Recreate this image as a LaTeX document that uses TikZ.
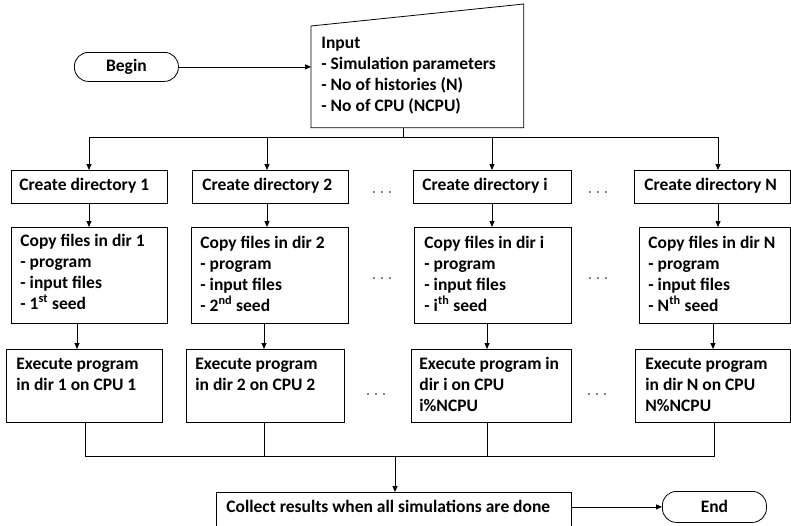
\documentclass[tikz,border=0pt]{standalone}
\usepackage{fontspec}
\setmainfont{Carlito}
\usetikzlibrary{arrows.meta,calc}
\newcommand{\mlines}[1]{\begin{tabular}[t]{@{}l@{}}#1\end{tabular}}
\begin{document}
\begin{tikzpicture}[x=1pt,y=-1pt,
  line width=0.8pt,
  box/.style={draw, rectangle, anchor=north west, inner sep=0pt},
  term/.style={draw, rectangle, rounded corners=14pt, anchor=north west, inner sep=0pt},
  txt/.style={anchor=base west, inner sep=0pt, font=\fontsize{17.5}{21}\selectfont\bfseries},
  ctxt/.style={inner sep=0pt, font=\fontsize{17.5}{21}\selectfont\bfseries},
  arr/.style={-{Triangle[length=6pt,width=5pt]}},
  dot/.style={fill, circle, inner sep=0pt, minimum size=1.6pt}
]
\useasboundingbox (0,0) rectangle (791,525);
\clip (0,0) rectangle (791,525);

% Begin / Input
\node[term, minimum width=104, minimum height=29] (begin) at (74,52) {};
\node[ctxt] at (begin.center) {Begin};
\node[rectangle, anchor=north west, inner sep=0pt, minimum width=212, minimum height=123] (inp) at (311,4) {};
\draw (inp.south west) -- (inp.south east) -- (inp.north east) -- ($(inp.north west)+(0,22)$) -- cycle;
\node[txt] at ($(inp.north west)+(10,44)$) {\mlines{Input\\- Simulation parameters\\- No of histories (N)\\- No of CPU (NCPU)}};
\draw[arr] (begin.east) -- (begin.east -| inp.west);

% Row 1
\node[box, minimum width=156, minimum height=33] (c1) at (11,170) {};
\node[box, minimum width=156, minimum height=33] (c2) at (192,170) {};
\node[box, minimum width=158, minimum height=33] (ci) at (413,170) {};
\node[box, minimum width=156, minimum height=33] (cN) at (634,170) {};
\node[txt] at ($(c1.north west)+(8,20)$) {Create directory 1};
\node[txt] at ($(c2.north west)+(10,20)$) {Create directory 2};
\node[txt] at ($(ci.north west)+(9,20)$) {Create directory i};
\node[txt] at ($(cN.north west)+(10,20)$) {Create directory N};

% Row 2
\node[box, minimum width=156, minimum height=96] (p1) at (11,227) {};
\node[box, minimum width=157, minimum height=96] (p2) at (191,227) {};
\node[box, minimum width=157, minimum height=96] (pi) at (414,227) {};
\node[box, minimum width=151, minimum height=96] (pN) at (639,227) {};
\node[txt] at ($(p1.north west)+(9,19)$) {\mlines{Copy files in dir 1\\- program\\- input files\\- 1\textsuperscript{st} seed}};
\node[txt] at ($(p2.north west)+(9,21)$) {\mlines{Copy files in dir 2\\- program\\- input files\\- 2\textsuperscript{nd} seed}};
\node[txt] at ($(pi.north west)+(10,21)$) {\mlines{Copy files in dir i\\- program\\- input files\\- i\textsuperscript{th} seed}};
\node[txt] at ($(pN.north west)+(9,21)$) {\mlines{Copy files in dir N\\- program\\- input files\\- N\textsuperscript{th} seed}};

% Row 3
\node[box, minimum width=156, minimum height=73] (e1) at (6,349) {};
\node[box, minimum width=158, minimum height=73] (e2) at (186,349) {};
\node[box, minimum width=160, minimum height=73] (ei) at (411,349) {};
\node[box, minimum width=155, minimum height=73] (eN) at (635,349) {};
\node[txt] at ($(e1.north west)+(10,20)$) {\mlines{Execute program\\in dir 1 on CPU 1}};
\node[txt] at ($(e2.north west)+(9,20)$) {\mlines{Execute program\\in dir 2 on CPU 2}};
\node[txt] at ($(ei.north west)+(8,20)$) {\mlines{Execute program in\\dir i on CPU\\i\%NCPU}};
\node[txt] at ($(eN.north west)+(10,20)$) {\mlines{Execute program\\in dir N on CPU\\N\%NCPU}};

% Collect / End
\node[box, minimum width=355, minimum height=45] (col) at (216,492) {};
\node[txt] at ($(col.north west)+(10,20)$) {Collect results when all simulations are done};
\node[term, minimum width=104, minimum height=31] (end) at (662,491) {};
\node[ctxt] at (end.center) {End};
\draw[arr] (col.east |- end.west) -- (end.west);

% Top bus
\coordinate (busT) at (403,137);
\draw (inp.south -| busT) -- (busT);
\coordinate (bT1) at (89,137);
\coordinate (bT2) at (267,137);
\coordinate (bTi) at (492,137);
\coordinate (bTN) at (718,137);
\draw (bT1) -- (bTN);
\draw[arr] (bT1) -- (bT1 |- c1.north);
\draw[arr] (bT2) -- (bT2 |- c2.north);
\draw[arr] (bTi) -- (bTi |- ci.north);
\draw[arr] (bTN) -- (bTN |- cN.north);

% Row1 -> Row2
\draw[arr] (c1.south -| bT1) -- (p1.north -| bT1);
\draw[arr] (c2.south -| bT2) -- (p2.north -| bT2);
\draw[arr] (ci.south -| bTi) -- (pi.north -| bTi);
\draw[arr] (cN.south -| bTN) -- (pN.north -| bTN);

% Row2 -> Row3
\coordinate (m1) at (77,336);
\coordinate (m2) at (264,336);
\coordinate (mi) at (487,336);
\coordinate (mN) at (713,336);
\draw[arr] (p1.south -| m1) -- (e1.north -| m1);
\draw[arr] (p2.south -| m2) -- (e2.north -| m2);
\draw[arr] (pi.south -| mi) -- (ei.north -| mi);
\draw[arr] (pN.south -| mN) -- (eN.north -| mN);

% Bottom bus
\coordinate (bB1) at (85,456);
\coordinate (bB2) at (264,456);
\coordinate (bBi) at (487,456);
\coordinate (bBN) at (714,456);
\coordinate (bBc) at (395,456);
\draw (e1.south -| bB1) -- (bB1) -- (bBN) -- (eN.south -| bBN);
\draw (e2.south -| bB2) -- (bB2);
\draw (ei.south -| bBi) -- (bBi);
\draw[arr] (bBc) -- (bBc |- col.north);

% Ellipses
\foreach \cx/\cy in {382/192, 598/192, 382/278, 598/278, 376/394, 597/394}{
  \foreach \dx in {-8,0,8}{
    \fill (\cx+\dx,\cy) circle (0.9pt);
  }
}
\end{tikzpicture}
\end{document}
